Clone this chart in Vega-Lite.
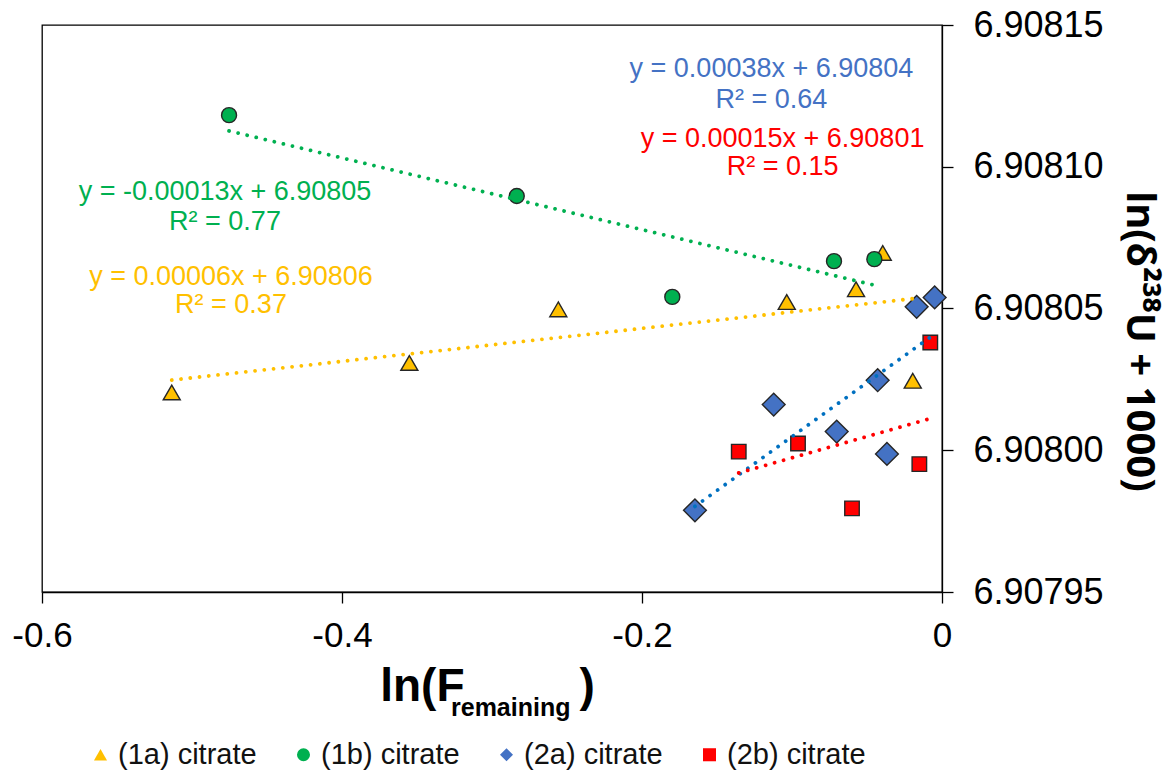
{
  "$schema": "https://vega.github.io/schema/vega-lite/v6.json",
  "width": 900,
  "height": 567,
  "autosize": {"type": "none"},
  "padding": {"left": 42, "top": 25, "right": 229, "bottom": 184},
  "background": "white",
  "config": {
    "view": {"stroke": "#000", "strokeWidth": 1.3},
    "font": "Liberation Sans",
    "axis": {
      "grid": false,
      "domainColor": "#000",
      "tickColor": "#000",
      "labelColor": "#000",
      "titleColor": "#000",
      "domainWidth": 1.3,
      "tickWidth": 1.3,
      "tickSize": 11,
      "labelFlush": false,
      "labelFont": "Liberation Sans",
      "titleFont": "Liberation Sans"
    },
    "legend": {
      "labelFontSize": 29,
      "labelFont": "Liberation Sans",
      "labelColor": "#111",
      "labelLimit": 300,
      "symbolSize": 170,
      "symbolStrokeColor": "#262626",
      "symbolStrokeWidth": 1.2,
      "columnPadding": 32,
      "labelOffset": 3
    }
  },
  "title": {
    "text": "remaining",
    "orient": "bottom",
    "anchor": "start",
    "frame": "group",
    "fontSize": 25,
    "fontWeight": "bold",
    "font": "Liberation Sans",
    "color": "#000",
    "dx": 409,
    "offset": -54,
    "baseline": "alphabetic"
  },
  "datasets": {
    "pts": [
      {"series": "(1a) citrate", "x": -0.5135, "y": 6.9080204},
      {"series": "(1a) citrate", "x": -0.3551, "y": 6.9080308},
      {"series": "(1a) citrate", "x": -0.2558, "y": 6.9080497},
      {"series": "(1a) citrate", "x": -0.1035, "y": 6.9080523},
      {"series": "(1a) citrate", "x": -0.0573, "y": 6.9080568},
      {"series": "(1a) citrate", "x": -0.0395, "y": 6.9080696},
      {"series": "(1a) citrate", "x": -0.0195, "y": 6.9080245},
      {"series": "(1b) citrate", "x": -0.4753, "y": 6.9081182},
      {"series": "(1b) citrate", "x": -0.2835, "y": 6.9080897},
      {"series": "(1b) citrate", "x": -0.1798, "y": 6.9080541},
      {"series": "(1b) citrate", "x": -0.072, "y": 6.9080667},
      {"series": "(1b) citrate", "x": -0.0451, "y": 6.9080674},
      {"series": "(2a) citrate", "x": -0.1647, "y": 6.9079788},
      {"series": "(2a) citrate", "x": -0.1122, "y": 6.9080161},
      {"series": "(2a) citrate", "x": -0.0702, "y": 6.9080066},
      {"series": "(2a) citrate", "x": -0.0429, "y": 6.9080247},
      {"series": "(2a) citrate", "x": -0.0367, "y": 6.9079987},
      {"series": "(2a) citrate", "x": -0.0169, "y": 6.9080506},
      {"series": "(2a) citrate", "x": -0.0049, "y": 6.9080539},
      {"series": "(2b) citrate", "x": -0.1355, "y": 6.9079995},
      {"series": "(2b) citrate", "x": -0.096, "y": 6.9080024},
      {"series": "(2b) citrate", "x": -0.06, "y": 6.9079795},
      {"series": "(2b) citrate", "x": -0.0151, "y": 6.9079951},
      {"series": "(2b) citrate", "x": -0.0078, "y": 6.908038}
    ],
    "eq": [
      {"series": "(2a) citrate", "label": "y = 0.00038x + 6.90804", "x": -0.1137, "y": 6.9081315},
      {"series": "(2a) citrate", "label": "R² = 0.64", "x": -0.1137, "y": 6.9081206},
      {"series": "(2b) citrate", "label": "y = 0.00015x + 6.90801", "x": -0.1063, "y": 6.9081071},
      {"series": "(2b) citrate", "label": "R² = 0.15", "x": -0.1063, "y": 6.908097},
      {"series": "(1b) citrate", "label": "y = -0.00013x + 6.90805", "x": -0.478, "y": 6.9080882},
      {"series": "(1b) citrate", "label": "R² = 0.77", "x": -0.478, "y": 6.9080776},
      {"series": "(1a) citrate", "label": "y = 0.00006x + 6.90806", "x": -0.474, "y": 6.9080582},
      {"series": "(1a) citrate", "label": "R² = 0.37", "x": -0.474, "y": 6.9080483}
    ]
  },
  "layer": [
    {
      "data": {"name": "pts"},
      "mark": {"type": "point", "filled": true, "stroke": "#262626", "strokeWidth": 1.4, "opacity": 1},
      "encoding": {
        "x": {
          "field": "x",
          "type": "quantitative",
          "scale": {"domain": [-0.6, 0], "nice": false, "zero": false},
          "axis": {
            "title": "ln(F\u00a0\u00a0\u00a0\u00a0\u00a0\u00a0\u00a0\u00a0\u00a0)",
            "values": [-0.6, -0.4, -0.2, 0],
            "labelExpr": "datum.value == 0 ? '0' : '-' + format(-datum.value, '.1f')",
            "labelFontSize": 35,
            "labelPadding": 43,
            "labelBaseline": "alphabetic",
            "titleFontSize": 46,
            "titleFontWeight": "bold",
            "titleX": 445,
            "titleY": 108,
            "titleBaseline": "alphabetic",
            "titleAlign": "center"
          }
        },
        "y": {
          "field": "y",
          "type": "quantitative",
          "scale": {"domain": [6.90795, 6.90815], "nice": false, "zero": false},
          "axis": {
            "orient": "right",
            "title": "ln(δ²³⁸U + 1000)",
            "values": [6.90795, 6.908, 6.90805, 6.9081, 6.90815],
            "format": ".5f",
            "labelFontSize": 36,
            "labelPadding": 20,
            "titleFont": "Noto Sans",
            "titleFontSize": 40,
            "titleFontWeight": "bold",
            "titleAngle": 90,
            "titleX": 184,
            "titleY": 316,
            "titleBaseline": "alphabetic",
            "titleAlign": "center"
          }
        },
        "fill": {
          "field": "series",
          "type": "nominal",
          "scale": {
            "domain": ["(1a) citrate", "(1b) citrate", "(2a) citrate", "(2b) citrate"],
            "range": ["#FFC000", "#00B050", "#4472C4", "#FF0000"]
          },
          "legend": {
            "orient": "none", "legendX": 44, "legendY": 715, "direction": "horizontal", "title": null, "padding": 0,
            "symbolStrokeColor": "#262626", "symbolStrokeWidth": 1.2,
            "encode": {"symbols": {"enter": {"stroke": {"value": "#262626"}, "strokeWidth": {"value": 1.2}}, "update": {"stroke": {"value": "#262626"}, "strokeWidth": {"value": 1.2}}}}
          }
        },
        "shape": {
          "field": "series",
          "type": "nominal",
          "scale": {
            "domain": ["(1a) citrate", "(1b) citrate", "(2a) citrate", "(2b) citrate"],
            "range": ["triangle-up", "circle", "diamond", "square"]
          },
          "legend": {
            "orient": "none", "legendX": 44, "legendY": 715, "direction": "horizontal", "title": null, "padding": 0,
            "symbolStrokeColor": "#262626", "symbolStrokeWidth": 1.2,
            "encode": {"symbols": {"enter": {"stroke": {"value": "#262626"}, "strokeWidth": {"value": 1.2}}, "update": {"stroke": {"value": "#262626"}, "strokeWidth": {"value": 1.2}}}}
          }
        },
        "size": {
          "field": "series",
          "type": "nominal",
          "scale": {"type": "ordinal", "range": [290, 225, 520, 210]},
          "legend": null
        }
      }
    },
    {
      "data": {"name": "pts"},
      "transform": [{"regression": "y", "on": "x", "groupby": ["series"]}],
      "mark": {"type": "line", "strokeDash": [0.01, 9.3], "strokeCap": "round", "strokeWidth": 3.8},
      "encoding": {
        "x": {"field": "x", "type": "quantitative"},
        "y": {"field": "y", "type": "quantitative"},
        "stroke": {
          "field": "series",
          "type": "nominal",
          "scale": {"range": ["#FFC000", "#00B050", "#0070C0", "#FF0000"]},
          "legend": null
        }
      }
    },
    {
      "data": {"name": "eq"},
      "mark": {"type": "text", "fontSize": 27, "align": "center", "baseline": "alphabetic", "font": "Liberation Sans"},
      "encoding": {
        "x": {"field": "x", "type": "quantitative"},
        "y": {"field": "y", "type": "quantitative"},
        "text": {"field": "label"},
        "color": {
          "field": "series",
          "type": "nominal",
          "scale": {"range": ["#FFC000", "#00B050", "#4472C4", "#FF0000"]},
          "legend": null
        }
      }
    }
  ]
}
